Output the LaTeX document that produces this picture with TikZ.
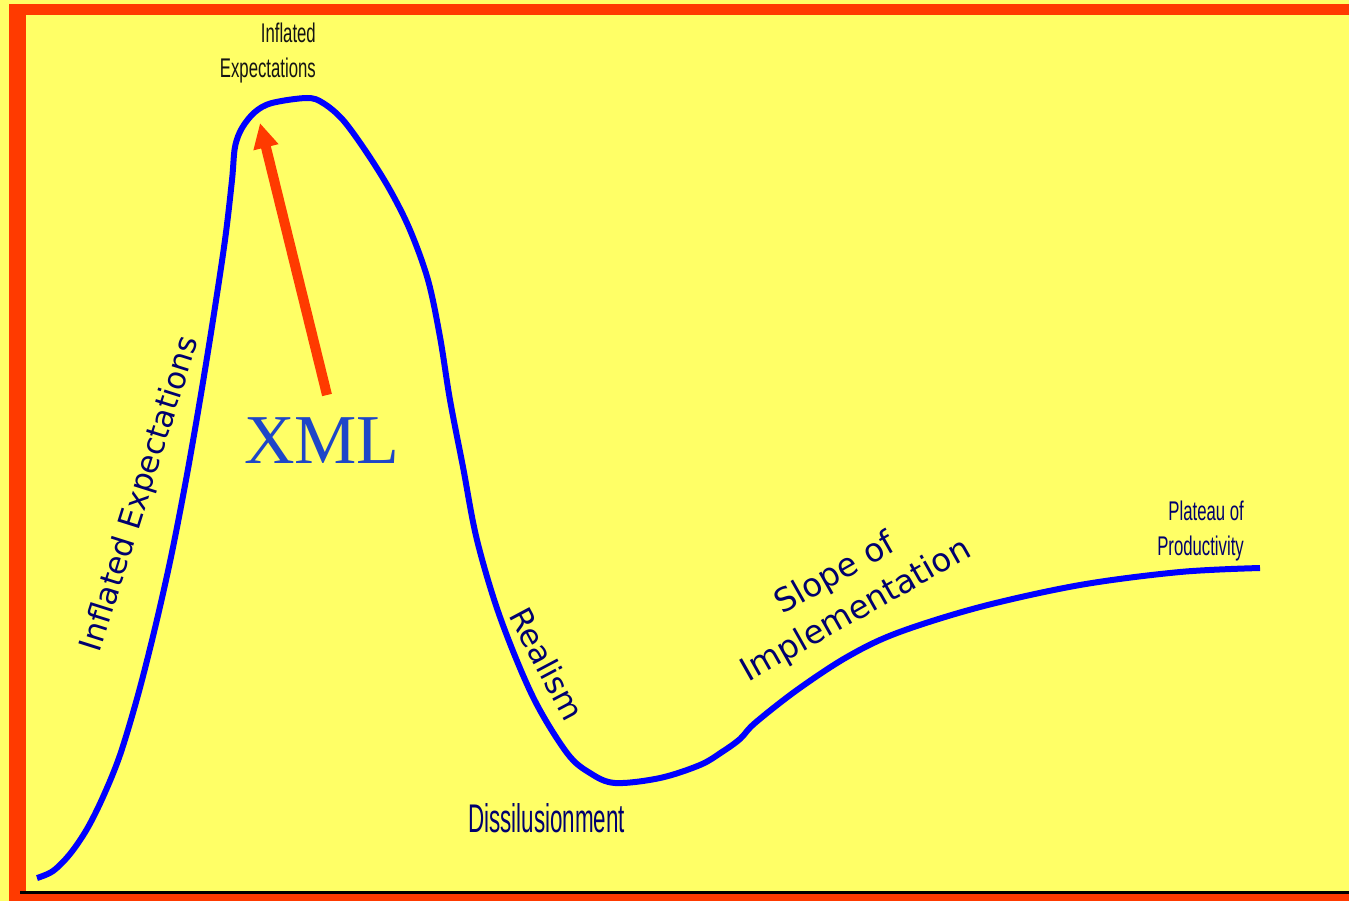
\documentclass[tikz,border=0pt]{standalone}
\usepackage{fontspec}
\usepackage{graphicx}
\usetikzlibrary{arrows.meta}
\setmainfont{Liberation Serif}
\newfontfamily\dejavu{DejaVu Sans}
\newfontfamily\narrowsans{Liberation Sans}
\definecolor{bgyellow}{RGB}{255,255,102}
\definecolor{frameorange}{RGB}{255,58,0}
\definecolor{curveblue}{RGB}{0,0,255}
\definecolor{navy}{RGB}{0,0,110}
\definecolor{xmlblue}{RGB}{30,70,200}
\definecolor{darktext}{RGB}{20,20,20}
\tikzset{
  framebar/.style={fill=frameorange, draw=none},
  hypecurve/.style={draw=curveblue, line width=6pt, line join=round},
  pointer/.style={draw=frameorange, line width=10pt, -{Triangle[length=25pt,width=24pt]}},
  narrowlabel/.style={inner sep=0pt, font=\narrowsans},
  slopelabel/.style={inner sep=0pt, text=navy, font=\dejavu\fontsize{31}{40}\selectfont},
}
\begin{document}
\begin{tikzpicture}[x=1pt,y=-1pt]
\useasboundingbox (0,0) rectangle (1349,901);
\fill[bgyellow] (0,0) rectangle (1349,901);
% frame
\path[framebar] (9,4) rectangle (26,901);
\path[framebar] (9,4) rectangle (1349,15.5);
\path[framebar] (9,894) rectangle (1349,901);
\fill[black] (20,890.5) rectangle (1349,893.5);
% hype curve
\draw[hypecurve] plot[smooth, tension=0.55] coordinates {
 (37,878) (53,871) (70,854) (87,829) (103,797) (120,755) (138,695)
 (155,628) (171,557)
 (186,480) (200,400) (213,320) (225,240) (232,180) (235,147) (242,128)
 (255,112) (272,103) (307,98)
 (323,103) (343,120) (367,153) (390,190) (410,230) (428,280) (440,337)
 (450,400) (463,467) (477,540) (500,617) (533,697) (567,753) (590,773)
 (615,783) (660,778) (700,765) (722,752) (740,739) (755,723) (797,690)
 (847,657) (897,633) (980,607) (1080,585) (1180,572) (1260,568)};
% XML pointer
\coordinate (xmltail) at (327,395);
\coordinate (xmltip) at (260,123);
\draw[pointer] (xmltail) -- (xmltip);
\node[inner sep=0pt, anchor=base west, text=xmlblue, font=\fontsize{70}{72}\selectfont] (xml) at (244,463) {XML};
% labels
\node[narrowlabel, text=darktext, anchor=base east] (peak) at (316,78)
  {\fontsize{27}{35}\selectfont\scalebox{0.62}[1]{\begin{tabular}[b]{@{}r@{}}Inflated\\Expectations\end{tabular}}};
\node[narrowlabel, text=navy, anchor=base east] (plateau) at (1244,555)
  {\fontsize{27}{35}\selectfont\scalebox{0.62}[1]{\begin{tabular}[b]{@{}r@{}}Plateau of\\Productivity\end{tabular}}};
\node[narrowlabel, text=navy, anchor=base west] (trough) at (468,832)
  {\fontsize{40}{44}\selectfont\scalebox{0.56}[1]{Dissilusionment}};
\node[slopelabel, rotate=72.5] (rise) at (141,494) {Inflated Expectations};
\node[slopelabel, rotate=-62] (realism) at (547,664) {Realism};
\node[slopelabel, rotate=29.5, align=center, font=\dejavu\fontsize{32.5}{42}\selectfont] (slope) at (846,593) {Slope of\hspace{0.75em}\\Implementation};
\end{tikzpicture}
\end{document}
